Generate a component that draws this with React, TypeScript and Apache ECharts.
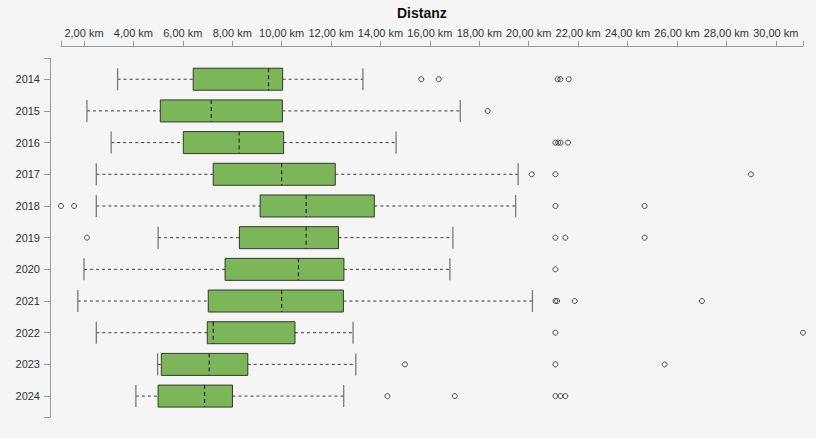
import React, { useEffect, useRef } from "react";
import * as echarts from "echarts";

const years = ["2014", "2015", "2016", "2017", "2018", "2019", "2020", "2021", "2022", "2023", "2024"];
const lowWhisker = [3.36, 2.12, 3.1, 2.5, 2.5, 5.0, 2.0, 1.75, 2.5, 4.98, 4.1];
const q1 = [6.42, 5.09, 6.02, 7.23, 9.13, 8.29, 7.71, 7.03, 6.99, 5.13, 5.0];
const median = [9.47, 7.15, 8.28, 10.0, 10.99, 10.99, 10.68, 10.0, 7.23, 7.07, 6.88];
const q3 = [10.04, 10.03, 10.08, 12.17, 13.75, 12.3, 12.52, 12.5, 10.54, 8.63, 8.01];
const highWhisker = [13.29, 17.23, 14.63, 19.57, 19.47, 16.93, 16.81, 20.15, 12.89, 13.0, 12.51];
const outliers: number[][] = [
  [15.65, 16.36, 21.17, 21.28, 21.62],
  [18.34],
  [21.08, 21.19, 21.29, 21.59],
  [20.12, 21.08, 28.99],
  [1.07, 1.6, 21.08, 24.69],
  [2.12, 21.08, 21.48, 24.69],
  [21.08],
  [21.08, 21.15, 21.86, 27.01],
  [21.08, 31.1],
  [14.99, 21.08, 25.5],
  [14.28, 17.01, 21.08, 21.28, 21.48],
];
const xTickValues = [2, 4, 6, 8, 10, 12, 14, 16, 18, 20, 22, 24, 26, 28, 30];
const titleText = "Distanz";

const FONT = "'Liberation Sans', Arial, Helvetica, sans-serif";

export default function App() {
  const ref = useRef<HTMLDivElement>(null);
  useEffect(() => {
    if (!ref.current) return;
    const chart = echarts.init(ref.current, undefined, { renderer: "svg" });
    const allVals = outliers.flat().concat(lowWhisker, highWhisker);
    const xMin = Math.min(...allVals);
    const xMax = Math.max(...allVals);
    const yMin = -0.67;
    const yMax = years.length - 1 + 0.66;
    const yIdx = years.map((_, i) => i);

    const boxData = years.map((_, i) => [i, lowWhisker[i], q1[i], median[i], q3[i], highWhisker[i]]);
    const outlierData: number[][] = [];
    outliers.forEach((arr, i) => arr.forEach((v) => outlierData.push([v, i])));

    chart.setOption({
      animation: false,
      backgroundColor: "#f5f5f5",
      textStyle: { fontFamily: FONT },
      title: {
        text: titleText,
        left: 397,
        top: 6,
        padding: 0,
        textStyle: { fontFamily: FONT, fontSize: 14, fontWeight: "bold", color: "#111" },
      },
      grid: { left: 61, right: 13, top: 58, bottom: 21, containLabel: false },
      xAxis: {
        type: "value",
        position: "top",
        offset: 12,
        min: xMin,
        max: xMax,
        splitLine: { show: false },
        axisLine: { show: true, onZero: false, lineStyle: { color: "#9a9a9a", width: 1 } },
        axisTick: {
          show: true,
          length: 5,
          lineStyle: { color: "#9a9a9a" },
          customValues: [xMin, ...xTickValues, xMax],
        },
        axisLabel: {
          customValues: xTickValues,
          margin: 8,
          fontSize: 11,
          color: "#333",
          fontFamily: FONT,
          formatter: (v: number) => v.toFixed(2).replace(".", ",") + " km",
        },
      },
      yAxis: {
        type: "value",
        inverse: true,
        min: yMin,
        max: yMax,
        offset: 11,
        splitLine: { show: false },
        axisLine: { show: true, onZero: false, lineStyle: { color: "#9a9a9a", width: 1 } },
        axisTick: {
          show: true,
          length: 6,
          lineStyle: { color: "#9a9a9a" },
          customValues: [yMin, ...yIdx, yMax],
        },
        axisLabel: {
          customValues: yIdx,
          margin: 10,
          fontSize: 11,
          color: "#333",
          fontFamily: FONT,
          formatter: (v: number) => years[Math.round(v)] ?? "",
        },
      },
      series: [
        {
          type: "custom",
          clip: false,
          encode: { x: [1, 2, 3, 4, 5], y: 0 },
          data: boxData,
          renderItem: (params: any, api: any) => {
            const i = api.value(0);
            const y = api.coord([xMin, i])[1];
            const xl = api.coord([api.value(1), i])[0];
            const xq1 = api.coord([api.value(2), i])[0];
            const xm = api.coord([api.value(3), i])[0];
            const xq3 = api.coord([api.value(4), i])[0];
            const xh = api.coord([api.value(5), i])[0];
            const h = 22;
            const whisk = { stroke: "#3a3a3a", lineWidth: 1, lineDash: [3, 3] };
            const cap = { stroke: "#7a7a7a", lineWidth: 1.3 };
            return {
              type: "group",
              children: [
                { type: "line", shape: { x1: xl, y1: y, x2: xq1, y2: y }, style: whisk },
                { type: "line", shape: { x1: xq3, y1: y, x2: xh, y2: y }, style: whisk },
                { type: "line", shape: { x1: xl, y1: y - h / 2, x2: xl, y2: y + h / 2 }, style: cap },
                { type: "line", shape: { x1: xh, y1: y - h / 2, x2: xh, y2: y + h / 2 }, style: cap },
                {
                  type: "rect",
                  shape: { x: xq1, y: y - h / 2, width: xq3 - xq1, height: h },
                  style: { fill: "#7db55b", stroke: "#2f3d26", lineWidth: 1 },
                },
                {
                  type: "line",
                  shape: { x1: xm, y1: y - h / 2, x2: xm, y2: y + h / 2 },
                  style: { stroke: "#2a2a2a", lineWidth: 1.2, lineDash: [4, 3] },
                },
              ],
            };
          },
        },
        {
          type: "scatter",
          clip: false,
          symbol: "circle",
          symbolSize: 5,
          data: outlierData,
          itemStyle: { color: "rgba(0,0,0,0)", borderColor: "#222", borderWidth: 1 },
          emphasis: { disabled: true },
        },
      ],
    });
    return () => chart.dispose();
  }, []);
  return (
    <div
      ref={ref}
      style={{ position: "fixed", left: 0, top: 0, width: 816, height: 438 }}
    />
  );
}
